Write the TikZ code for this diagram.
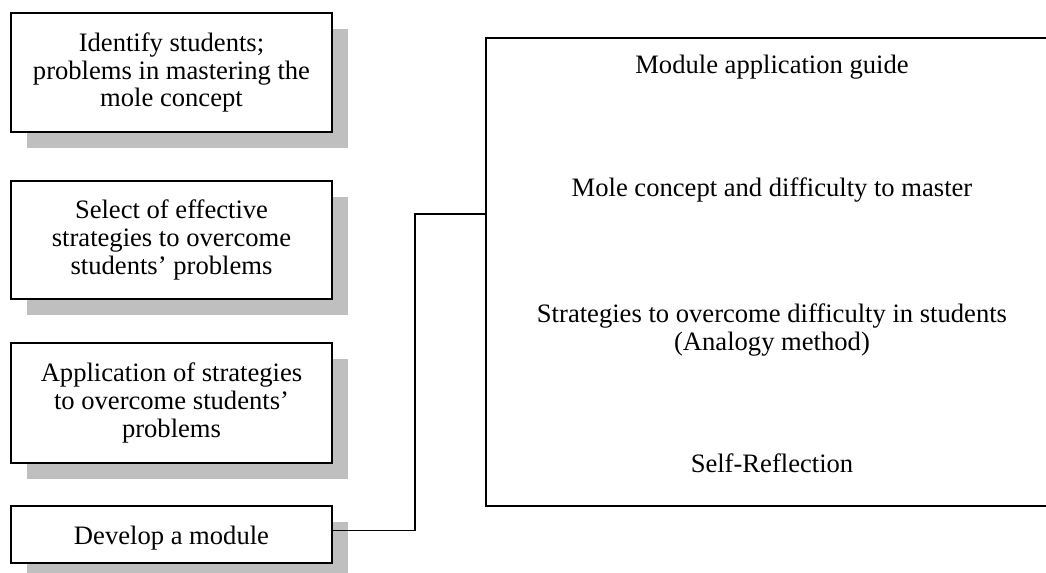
\documentclass[tikz,border=0pt]{standalone}
\usepackage{fontspec}
\setmainfont{Liberation Serif}
\usetikzlibrary{positioning,shadows}

\begin{document}
\begin{tikzpicture}[
      x=0.5pt, y=-0.5pt,
      stepbox/.style={
         rectangle,
         draw=black,
         line width=0.9pt,
         fill=white,
         align=center,
         inner sep=0pt,
         outer sep=0pt,
         minimum width=160.5pt,
         font=\fontsize{13.3}{13.8}\selectfont,
         execute at begin node=\rule{0pt}{13pt},
         drop shadow={shadow xshift=8pt,shadow yshift=-8pt,fill=black!25,opacity=1}},
      guidebox/.style={
         rectangle,
         draw=black,
         line width=0.9pt,
         inner sep=0pt,
         minimum width=286pt,
         minimum height=234pt},
      guidetext/.style={
         align=center,
         inner sep=0pt,
         font=\fontsize{13.3}{13.8}\selectfont},
      myline/.style={line width=0.9pt},
      node distance=24.5pt
      ]
      \useasboundingbox (0,0) rectangle (1046,573);

      % steps on the left
      \node[stepbox,minimum height=59.5pt] (ident) at (171.5,72.5)
         {Identify students;\\problems in mastering the\\mole concept};
      \node[stepbox,minimum height=59pt,below=of ident] (select)
         {Select of effective\\strategies to overcome\\students' problems};
      \node[stepbox,minimum height=60pt,below=22pt of select] (apply)
         {Application of strategies\\to overcome students'\\problems};
      \node[stepbox,minimum height=28.5pt,below=21.5pt of apply] (develop)
         {Develop a module};

      % the module
      \node[guidebox] (guide) at (772,272) {};
      \node[guidetext,anchor=base] (tguide) at (772,74) {Module application guide};
      \node[guidetext,anchor=base] (tmole) at (772,196) {Mole concept and difficulty to master};
      \node[guidetext] (tstrat) at (772,330)
         {Strategies to overcome difficulty in students\\(Analogy method)};
      \node[guidetext,anchor=base] (tself) at (772,472) {Self-Reflection};

      \coordinate (joint) at (415,214);
      \draw[myline] ([yshift=2pt]develop.east) -| (joint) -- (joint -| guide.west);
\end{tikzpicture}
\end{document}
